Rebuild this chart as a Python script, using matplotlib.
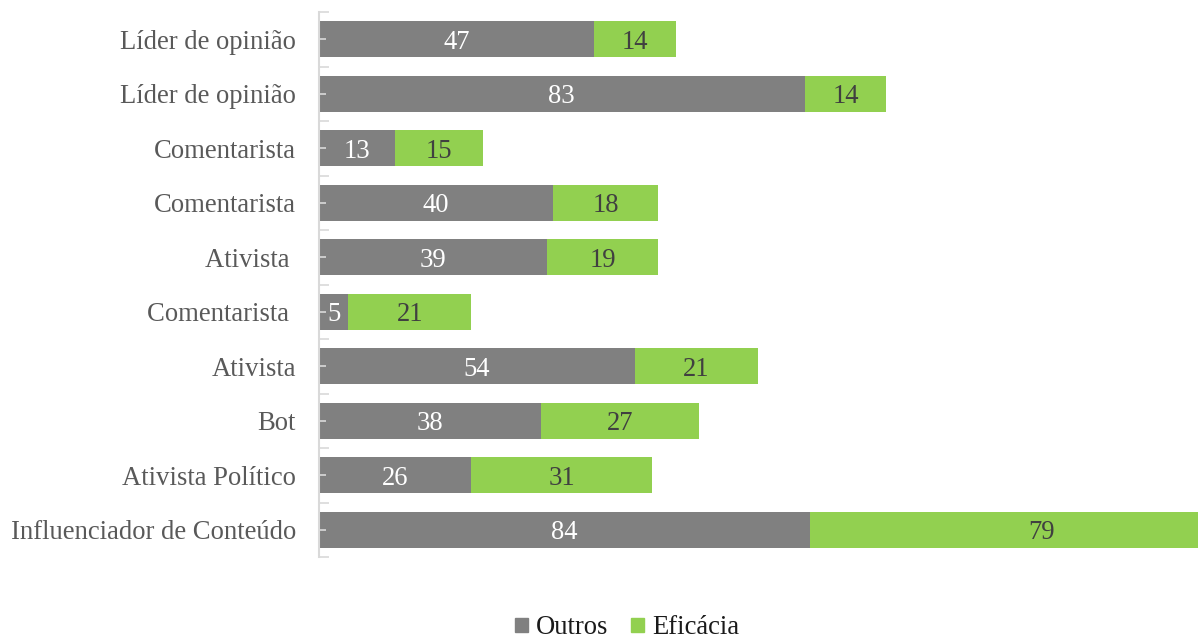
import matplotlib
matplotlib.use("Agg")
import matplotlib.pyplot as plt
from matplotlib.patches import Patch
import numpy as np

categories = ["Líder de opinião", "Líder de opinião", "Comentarista", "Comentarista",
              "Ativista ", "Comentarista ", "Ativista", "Bot", "Ativista Político",
              "Influenciador de Conteúdo"]
outros = [47, 83, 13, 40, 39, 5, 54, 38, 26, 84]
eficacia = [14, 14, 15, 18, 19, 21, 21, 27, 31, 79]

GRAY = "#808080"
GREEN = "#92D050"
plt.rcParams['font.family'] = ['Liberation Serif', 'DejaVu Serif']
FS = 19.2

W, H = 1198, 642
fig = plt.figure(figsize=(W / 100, H / 100), dpi=100)
ax = fig.add_axes([319 / W, 1 - 557 / H, 1 - 319 / W, (557 - 12) / H])

y = np.arange(len(categories))
b1 = ax.barh(y, outros, height=0.66, color=GRAY, zorder=2)
b2 = ax.barh(y, eficacia, left=outros, height=0.66, color=GREEN, zorder=2)

for i in range(len(categories)):
    ax.text(outros[i] / 2, y[i], str(outros[i]), ha="center", va="center_baseline",
            color="white", fontsize=FS, zorder=4)
    ax.text(outros[i] + eficacia[i] / 2, y[i], str(eficacia[i]), ha="center",
            va="center_baseline", color="#404040", fontsize=FS, zorder=4)

ax.set_xlim(0, (W - 319) / 5.85)
ax.set_ylim(len(categories) - 0.5, -0.5)
ax.set_yticks(y)
ax.set_yticklabels(categories, fontsize=FS, color="#595959", va="center_baseline")
ax.set_yticks(np.arange(len(categories) + 1) - 0.5, minor=True)
ax.tick_params(axis="y", which="major", length=5, direction="in", color="#d9d9d9",
               width=1.2, pad=16.5)
ax.tick_params(axis="y", which="minor", length=7, direction="in", color="#d9d9d9", width=1.2)
ax.set_xticks([])
for s in ["top", "right", "bottom"]:
    ax.spines[s].set_visible(False)
ax.spines["left"].set_color("#d9d9d9")
ax.spines["left"].set_linewidth(1.5)
ax.spines["left"].set_zorder(3)
for t in ax.yaxis.get_major_ticks():
    t.tick1line.set_zorder(5)
ax.set_axisbelow(False)

handles = [Patch(color=GRAY, label="Outros"), Patch(color=GREEN, label="Eficácia")]
fig.legend(handles=handles, loc="center", bbox_to_anchor=(627 / W, 1 - 628 / H),
           ncol=2, frameon=False, fontsize=FS, handlelength=0.48, handleheight=0.48,
           handletextpad=0.3, columnspacing=0.85, labelcolor="#1a1a1a")

fig.savefig("out.png", dpi=100)
